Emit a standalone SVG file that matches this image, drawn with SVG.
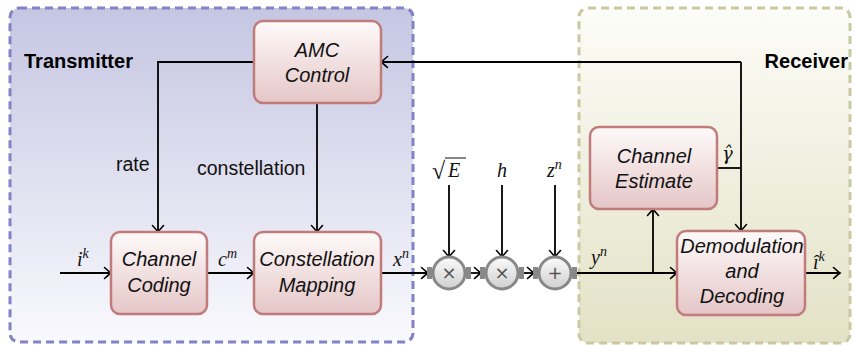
<svg xmlns="http://www.w3.org/2000/svg" width="854" height="345" viewBox="0 0 854 345">
<defs>
  <linearGradient id="gTx" x1="0" y1="0" x2="0" y2="1">
    <stop offset="0" stop-color="#c5c6e2"/>
    <stop offset="1" stop-color="#f9f9fd"/>
  </linearGradient>
  <linearGradient id="gRx" x1="0" y1="0" x2="0" y2="1">
    <stop offset="0" stop-color="#fcfcf8"/>
    <stop offset="1" stop-color="#e3e2c6"/>
  </linearGradient>
  <linearGradient id="gNode" x1="0" y1="0" x2="0" y2="1">
    <stop offset="0" stop-color="#fefafa"/>
    <stop offset="1" stop-color="#e5c6c7"/>
  </linearGradient>
  <linearGradient id="gOp" x1="0" y1="0" x2="0" y2="1">
    <stop offset="0" stop-color="#fbfbfb"/>
    <stop offset="1" stop-color="#cfcfcf"/>
  </linearGradient>
  <marker id="arr" markerUnits="userSpaceOnUse" markerWidth="14" markerHeight="14" viewBox="-8 -7 10 14" refX="0" refY="0" orient="auto">
    <path d="M-6.5,-5.5 Q-1.5,-1 0,0 Q-1.5,1 -6.5,5.5" fill="none" stroke="#000" stroke-width="1.6" stroke-linecap="round"/>
  </marker>
</defs>
<style>
  .node rect { fill: url(#gNode); stroke: #c27b7b; stroke-width: 2.5; }
  .lbl { font-family: "Liberation Sans", Arial, sans-serif; font-style: italic; font-size: 20px; fill: #111; text-anchor: middle; }
  .plain { font-family: "Liberation Sans", Arial, sans-serif; font-size: 19.5px; fill: #111; }
  .bold { font-family: "Liberation Sans", Arial, sans-serif; font-weight: bold; font-size: 20px; fill: #000; }
  .math { font-family: "Liberation Serif", "Times New Roman", serif; font-style: italic; font-size: 20px; fill: #111; }
  .sup { font-size: 14px; }
  .conn path { fill: none; stroke: #000; stroke-width: 1.8; }
  .op circle { fill: url(#gOp); stroke: #888; stroke-width: 3; }
  .op rect { fill: #888; }
  .op text { font-family: "DejaVu Sans", sans-serif; font-size: 18px; fill: #555; text-anchor: middle; }
</style>

<g id="transmitter">
  <rect x="10" y="8" width="403" height="334" rx="9" fill="url(#gTx)" stroke="#8282c6" stroke-width="3" stroke-dasharray="8,5"/>
  <text class="bold" x="24" y="68">Transmitter</text>
</g>
<g id="receiver">
  <rect x="579" y="8" width="271" height="335" rx="9" fill="url(#gRx)" stroke="#c9c9a2" stroke-width="3" stroke-dasharray="8,5"/>
  <text class="bold" x="848" y="68" text-anchor="end">Receiver</text>
</g>

<g class="conn" id="connectors">
  <path d="M60,273 H111" marker-end="url(#arr)"/>
  <path d="M207,273 H254" marker-end="url(#arr)"/>
  <path d="M381,273 H428" marker-end="url(#arr)"/>
  <path d="M471,273 H481" marker-end="url(#arr)"/>
  <path d="M524,273 H534" marker-end="url(#arr)"/>
  <path d="M577,273 H677" marker-end="url(#arr)"/>
  <path d="M653,273 V209" marker-end="url(#arr)"/>
  <path d="M717,168 H741"/>
  <path d="M741,62 V231" marker-end="url(#arr)"/>
  <path d="M741,62 H381" marker-end="url(#arr)"/>
  <path d="M254,62 H158 V232" marker-end="url(#arr)"/>
  <path d="M317,103 V232" marker-end="url(#arr)"/>
  <path d="M805,273 H840" marker-end="url(#arr)"/>
  <path d="M449,185 V257" marker-end="url(#arr)"/>
  <path d="M502,185 V257" marker-end="url(#arr)"/>
  <path d="M555,185 V257" marker-end="url(#arr)"/>
</g>

<g id="amc" class="node">
  <rect x="254" y="21" width="127" height="82" rx="9"/>
  <text class="lbl" x="317" y="57">AMC</text>
  <text class="lbl" x="317" y="82">Control</text>
</g>
<g id="channel-coding" class="node">
  <rect x="111" y="232" width="96" height="82" rx="9"/>
  <text class="lbl" x="159" y="266">Channel</text>
  <text class="lbl" x="159" y="292">Coding</text>
</g>
<g id="constellation-mapping" class="node">
  <rect x="254" y="232" width="127" height="82" rx="9"/>
  <text class="lbl" x="317" y="266">Constellation</text>
  <text class="lbl" x="317" y="292">Mapping</text>
</g>
<g id="channel-estimate" class="node">
  <rect x="590" y="127" width="127" height="82" rx="9"/>
  <text class="lbl" x="654" y="163">Channel</text>
  <text class="lbl" x="654" y="188">Estimate</text>
</g>
<g id="demod" class="node">
  <rect x="677" y="231" width="128" height="84" rx="9"/>
  <text class="lbl" x="742" y="253">Demodulation</text>
  <text class="lbl" x="742" y="278">and</text>
  <text class="lbl" x="742" y="303">Decoding</text>
</g>

<g id="mult1" class="op">
  <rect x="427" y="267" width="5" height="12"/>
  <rect x="466" y="267" width="5" height="12"/>
  <circle cx="449" cy="273" r="16"/>
  <text x="449" y="279">×</text>
</g>
<g id="mult2" class="op">
  <rect x="480" y="267" width="5" height="12"/>
  <rect x="519" y="267" width="5" height="12"/>
  <circle cx="502" cy="273" r="16"/>
  <text x="502" y="279">×</text>
</g>
<g id="add" class="op">
  <rect x="533" y="267" width="5" height="12"/>
  <rect x="572" y="267" width="5" height="12"/>
  <circle cx="555" cy="273" r="16"/>
  <text x="555" y="279">+</text>
</g>

<g id="labels">
  <text class="plain" x="116" y="171">rate</text>
  <text class="plain" x="197" y="175">constellation</text>
  <text class="math" x="77" y="266">i<tspan class="sup" dy="-8">k</tspan></text>
  <text class="math" x="218" y="266">c<tspan class="sup" dy="-8">m</tspan></text>
  <text class="math" x="393" y="266">x<tspan class="sup" dy="-8">n</tspan></text>
  <text class="math" x="591" y="264">y<tspan class="sup" dy="-8">n</tspan></text>
  <text class="math" x="813" y="269">î<tspan class="sup" dy="-8">k</tspan></text>
  <text class="math" x="722" y="160" style="font-family:'DejaVu Serif',serif;font-size:18px">γ̂</text>
  <text class="math" x="432" y="179" style="font-style:normal;font-size:24px">√</text>
  <line x1="445" y1="158" x2="466" y2="158" stroke="#111" stroke-width="1"/>
  <text class="math" x="448" y="177">E</text>
  <text class="math" x="497" y="177">h</text>
  <text class="math" x="547" y="177">z<tspan class="sup" dy="-8">n</tspan></text>
</g>
</svg>
